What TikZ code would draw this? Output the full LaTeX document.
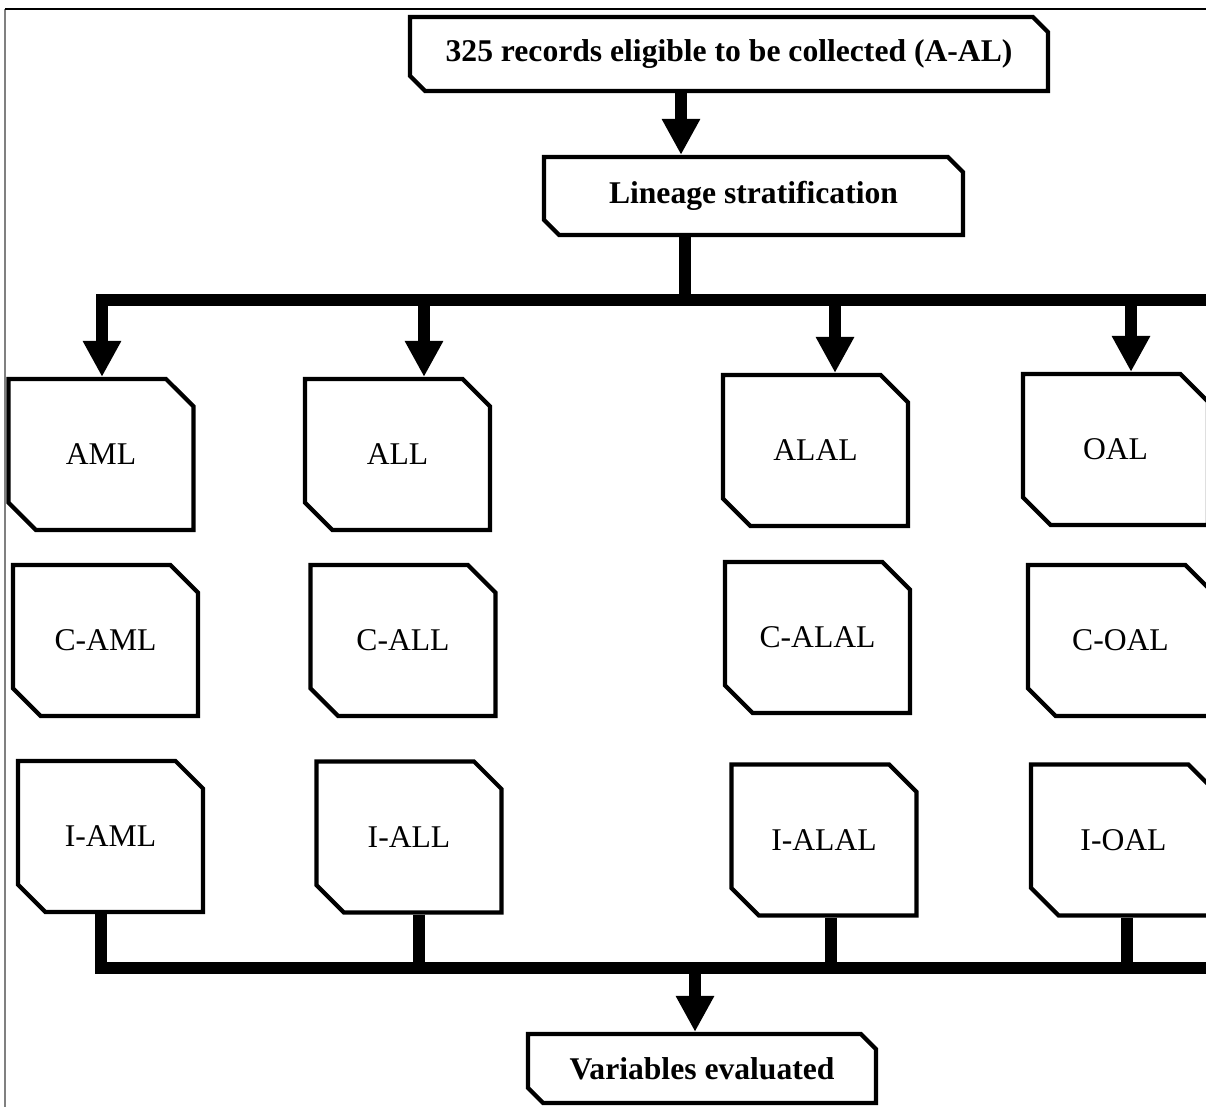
\documentclass[tikz,border=0pt]{standalone}
\usepackage{fontspec}
\setmainfont{Liberation Serif}
\usepackage{tikz}
\usetikzlibrary{shapes.misc}
\usetikzlibrary{arrows.meta}
\usetikzlibrary{positioning}
\tikzstyle{block} = [chamfered rectangle, chamfered rectangle corners={north east, south west}, chamfered rectangle sep=0.34cm, draw=black, line width=2.4pt, fill=white, inner sep=0pt, minimum width=3.7cm, minimum height=3.02cm, font=\fontsize{18}{21}\selectfont]
\tikzstyle{title} = [block, chamfered rectangle sep=0.15cm, font=\fontsize{18}{21}\selectfont\bfseries]
\tikzstyle{arrow} = [line width=6.8pt, -{Triangle[width=20.5pt,length=20.5pt]}]
\tikzstyle{bus} = [line width=6.5pt]

\begin{document}
\begin{tikzpicture}[x=0.02cm, y=-0.02cm]

  \useasboundingbox (0,0) rectangle (1206,1107);
  \clip (0,0) rectangle (1206,1107);

  % frame
  \draw[gray, line width=0.9pt] (5,9) -- (5,1107);
  \draw[line width=0.7pt] (5,9) -- (1206,9);

  % top
  \node[title, minimum width=12.76cm, minimum height=1.48cm] (top) at (729,54) {325 records eligible to be collected (A-AL)};
  \node[title, minimum width=8.38cm, minimum height=1.56cm] (lin) at (753.5,196) {Lineage stratification};

  % Row 1
  \foreach \n/\x/\y/\t in {aml/101/454.5/AML, all/397.5/454.5/ALL, alal/815.5/450.5/ALAL, oal/1115.5/449.5/OAL}
    \node[block] (\n) at (\x,\y) {\t};

  % Row 2
  \foreach \n/\x/\y/\t in {caml/105.5/640.5/C-AML, call/403/640.5/C-ALL, calal/817.5/637.5/C-ALAL, coal/1120.5/640.5/C-OAL}
    \node[block] (\n) at (\x,\y) {\t};

  % Row 3
  \foreach \n/\x/\y/\t in {iaml/110.5/836.5/I-AML, iall/409/837/I-ALL, ialal/824/840/I-ALAL, ioal/1123.5/840/I-OAL}
    \node[block] (\n) at (\x,\y) {\t};

  % bottom
  \node[title, minimum width=6.96cm, minimum height=1.38cm] (var) at (702,1068.5) {Variables evaluated};

  % upper bus
  \coordinate (a0) at (681,0);
  \coordinate (t0) at (685,300);
  \coordinate (tR) at (1240,300);
  \coordinate (t1) at (102,300);
  \coordinate (t2) at (424,300);
  \coordinate (t3) at (835,300);
  \coordinate (t4) at (1131,300);

  \draw[arrow] (top.south -| a0) -- (lin.north -| a0);
  \draw[bus] (lin.south -| t0) -- (t0);
  \draw[arrow] (tR) -- (t1) -- (aml.north -| t1);
  \foreach \c/\n in {t2/all, t3/alal, t4/oal}
    \draw[arrow] (\c) -- (\n.north -| \c);

  % lower bus
  \coordinate (b1) at (101,968);
  \coordinate (b2) at (419,968);
  \coordinate (b3) at (831,968);
  \coordinate (b4) at (1127,968);
  \coordinate (bR) at (1240,968);
  \coordinate (bV) at (695,968);

  \draw[bus] (iaml.south -| b1) -- (b1) -- (bR);
  \foreach \c/\n in {b2/iall, b3/ialal, b4/ioal}
    \draw[bus] (\n.south -| \c) -- (\c);
  \draw[arrow] (bV) -- (var.north -| bV);

\end{tikzpicture}
\end{document}
